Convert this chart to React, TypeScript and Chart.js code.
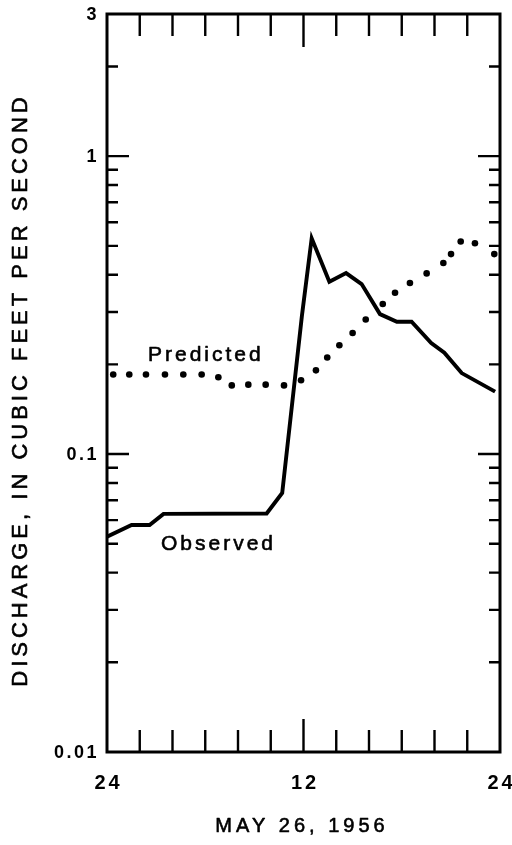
import { useEffect, useRef } from "react";
import { Chart, registerables } from "chart.js";

Chart.register(...registerables);

// Observed hydrograph, hours from midnight May 26, 1956
const observedHours = [0, 1.5, 2.6, 3.45, 9.75, 10.7, 11.9, 12.5, 13.58, 14.6, 15.55, 16.67, 17.7, 18.6, 19.8, 20.6, 21.66, 23.7];
const observedFlow = [0.0528, 0.0578, 0.0578, 0.063, 0.0632, 0.074, 0.29, 0.53, 0.379, 0.405, 0.372, 0.295, 0.278, 0.278, 0.236, 0.219, 0.187, 0.162];

// Predicted discharge, plotted as dots
const predictedHours = [0.38, 1.36, 2.38, 3.54, 4.66, 5.78, 6.8, 7.62, 8.63, 9.69, 10.81, 11.85, 12.76, 13.45, 14.19, 15.0, 15.8, 16.84, 17.59, 18.5, 19.52, 20.54, 21.01, 21.6, 22.47, 23.65];
const predictedFlow = [0.185, 0.185, 0.185, 0.185, 0.185, 0.185, 0.181, 0.17, 0.171, 0.171, 0.17, 0.177, 0.191, 0.211, 0.232, 0.255, 0.283, 0.319, 0.348, 0.375, 0.404, 0.438, 0.469, 0.517, 0.51, 0.469];

// Axis ticks and labels
const hourTickValues = [2, 4, 6, 8, 10, 12, 14, 16, 18, 20, 22];
const hourLabelValues = [0, 12, 24];
const hourLabelText = ["24", "12", "24"];
const flowMajorTicks = [1, 0.1];
const flowMinorMultipliers = [2, 3, 4, 5, 6, 7, 8, 9];
const flowDecades = [0.01, 0.1, 1];
const flowLabelValues = [3, 1, 0.1, 0.01];
const flowLabelText = ["3", "1", "0.1", "0.01"];

const X_MIN = 0;
const X_MAX = 24;
const Y_MIN = 0.01;
const Y_MAX = 3;

const FONT = "'Liberation Sans', Arial, sans-serif";

// Regular-weight text with a thin outline so it reads like printed lettering
function heavyText(ctx: CanvasRenderingContext2D, text: string, x: number, y: number) {
  ctx.fillText(text, x, y);
  ctx.strokeText(text, x, y);
}

const framePlugin = {
  id: "frameAndTicks",
  afterDatasetsDraw(chart: any) {
    const ctx: CanvasRenderingContext2D = chart.ctx;
    const { left, right, top, bottom } = chart.chartArea;
    const xs = chart.scales.x;
    const ys = chart.scales.y;
    ctx.save();
    ctx.strokeStyle = "#000";
    ctx.fillStyle = "#000";
    ctx.lineCap = "butt";

    // frame
    ctx.lineWidth = 3;
    ctx.strokeRect(left, top, right - left, bottom - top);

    // hour ticks, top and bottom, pointing inward
    ctx.lineWidth = 2.4;
    ctx.beginPath();
    hourTickValues.forEach((h) => {
      const px = xs.getPixelForValue(h);
      const len = h === 12 ? 33 : 22;
      ctx.moveTo(px, top);
      ctx.lineTo(px, top + len);
      ctx.moveTo(px, bottom);
      ctx.lineTo(px, bottom - len);
    });
    ctx.stroke();

    // discharge ticks, left and right, pointing inward
    ctx.beginPath();
    const flowTick = (v: number, len: number) => {
      if (v <= Y_MIN || v >= Y_MAX) return;
      const py = ys.getPixelForValue(v);
      ctx.moveTo(left, py);
      ctx.lineTo(left + len, py);
      ctx.moveTo(right, py);
      ctx.lineTo(right - len, py);
    };
    flowMajorTicks.forEach((v) => flowTick(v, 22));
    flowDecades.forEach((d) =>
      flowMinorMultipliers.forEach((m) => flowTick(d * m, 11))
    );
    ctx.stroke();

    // discharge labels
    ctx.textBaseline = "middle";
    ctx.textAlign = "right";
    ctx.font = `bold 18px ${FONT}`;
    (ctx as any).letterSpacing = "2.5px";
    flowLabelValues.forEach((v, i) => {
      ctx.fillText(flowLabelText[i], 99, ys.getPixelForValue(v) + 1);
    });

    // hour labels
    ctx.textAlign = "center";
    ctx.font = `bold 20px ${FONT}`;
    (ctx as any).letterSpacing = "3px";
    hourLabelValues.forEach((h, i) => {
      ctx.fillText(hourLabelText[i], xs.getPixelForValue(h) + 1.5, 783);
    });

    ctx.lineWidth = 0.6;
    ctx.lineJoin = "round";

    // x axis title
    ctx.font = `20px ${FONT}`;
    (ctx as any).letterSpacing = "4px";
    heavyText(ctx, "MAY 26, 1956", 302, 826);

    // y axis title
    ctx.save();
    ctx.translate(21, 390);
    ctx.rotate(-Math.PI / 2);
    ctx.font = `22px ${FONT}`;
    (ctx as any).letterSpacing = "4px";
    heavyText(ctx, "DISCHARGE, IN CUBIC FEET PER SECOND", 0, 0);
    ctx.restore();

    // series labels
    ctx.textAlign = "left";
    ctx.font = `21px ${FONT}`;
    (ctx as any).letterSpacing = "3px";
    heavyText(ctx, "Predicted", 148, 355);
    heavyText(ctx, "Observed", 161, 544);

    (ctx as any).letterSpacing = "0px";
    ctx.restore();
  },
};

export default function App() {
  const canvasRef = useRef<HTMLCanvasElement | null>(null);

  useEffect(() => {
    if (!canvasRef.current) return;
    const chart = new Chart(canvasRef.current, {
      type: "scatter",
      data: {
        datasets: [
          {
            label: "Observed",
            data: observedHours.map((h, i) => ({ x: h, y: observedFlow[i] })),
            showLine: true,
            borderColor: "#000",
            borderWidth: 3.9,
            borderJoinStyle: "miter",
            pointRadius: 0,
            tension: 0,
          },
          {
            label: "Predicted",
            data: predictedHours.map((h, i) => ({ x: h, y: predictedFlow[i] })),
            showLine: false,
            pointRadius: 3.3,
            pointBackgroundColor: "#000",
            pointBorderWidth: 0,
            pointStyle: "circle",
          },
        ],
      },
      options: {
        responsive: false,
        animation: false,
        events: [],
        layout: { padding: { left: 107, top: 14, right: 12, bottom: 93 } },
        plugins: {
          legend: { display: false },
          tooltip: { enabled: false },
        },
        scales: {
          x: { type: "linear", min: X_MIN, max: X_MAX, display: false },
          y: { type: "logarithmic", min: Y_MIN, max: Y_MAX, display: false },
        },
      },
      plugins: [framePlugin],
    });
    return () => chart.destroy();
  }, []);

  return (
    <div
      style={{
        position: "absolute",
        left: 0,
        top: 0,
        width: 512,
        height: 845,
        background: "#fff",
      }}
    >
      <canvas ref={canvasRef} width={512} height={845} style={{ display: "block" }} />
    </div>
  );
}
